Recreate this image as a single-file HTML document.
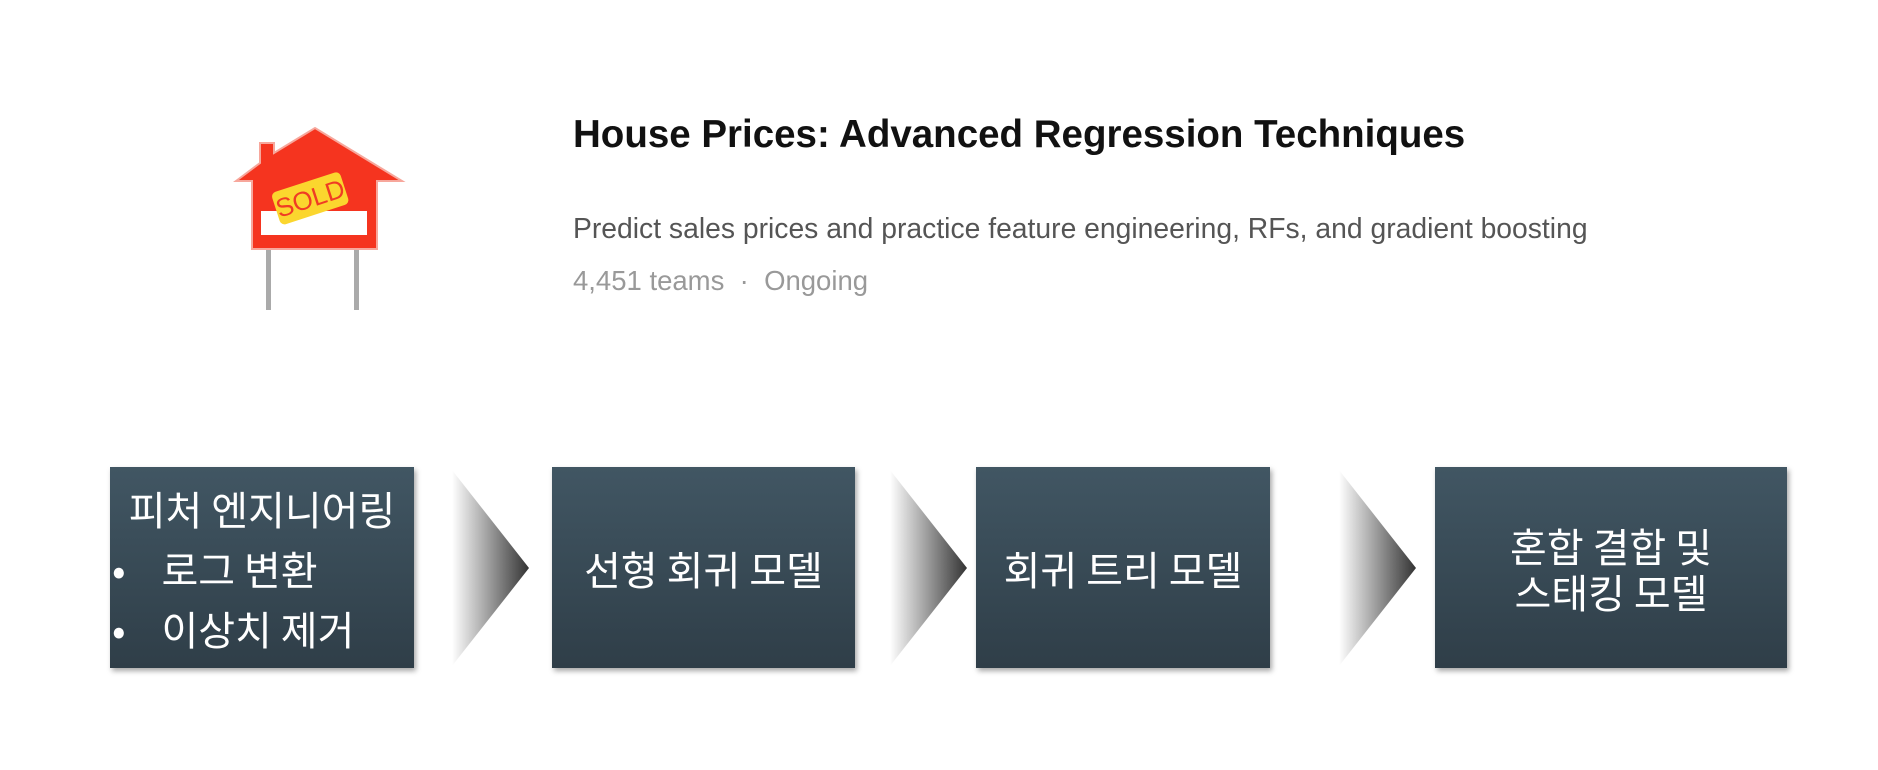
<!DOCTYPE html>
<html><head><meta charset="utf-8"><style>
body{margin:0;width:1878px;height:770px;background:#fff;position:relative;overflow:hidden;font-family:"Liberation Sans","Noto Sans CJK KR",sans-serif}
.box{position:absolute;top:467px;height:201px;background:linear-gradient(#415663,#2f3e48);box-shadow:2px 3px 5px rgba(0,0,0,.35);color:#fff;display:flex;align-items:center;justify-content:center;text-align:center;font-size:40px;line-height:46px;font-family:"Noto Sans CJK KR","NanumGothic",sans-serif;font-weight:400}
.chev{position:absolute;top:470px;width:77px;height:196px}
</style></head><body>
<svg style="position:absolute;left:230px;top:125px" width="180" height="185" viewBox="0 0 180 185">
<rect x="36" y="105" width="5" height="80" fill="#aaa"/><rect x="124" y="105" width="5" height="80" fill="#aaa"/>
<polygon points="6,56 30,38 30,18 44,18 44,28 85,3 172,56 147,56 147,124 22,124 22,56" fill="#f5341f" stroke="#f7a79c" stroke-width="2"/>
<rect x="31" y="86" width="106" height="24" fill="#fff"/>
<g transform="rotate(-18 78 73)"><rect x="44" y="57" width="72" height="34" rx="5" fill="#fbd62e"/><text x="80" y="83" text-anchor="middle" font-size="26" fill="#f03c24" font-family="Liberation Sans,sans-serif">SOLD</text></g>
</svg>
<div style="position:absolute;left:573px;top:113px;font-size:38.5px;font-weight:bold;color:#111">House Prices: Advanced Regression Techniques</div>
<div style="position:absolute;left:573px;top:212px;font-size:28.3px;color:#555">Predict sales prices and practice feature engineering, RFs, and gradient boosting</div>
<div style="position:absolute;left:573px;top:265px;font-size:27.5px;color:#999">4,451 teams &nbsp;·&nbsp; Ongoing</div>

<div class="box" style="left:110px;width:304px;display:block;text-align:left;line-height:50px">
<div style="text-align:center;margin-top:16px">피처 엔지니어링</div>
<div style="margin-top:10px;padding-left:2px">•&nbsp;&nbsp;&nbsp;&nbsp;로그 변환</div>
<div style="margin-top:10px;padding-left:2px">•&nbsp;&nbsp;&nbsp;&nbsp;이상치 제거</div>
</div>
<svg class="chev" style="left:452px" viewBox="0 0 77 196" preserveAspectRatio="none"><defs><linearGradient id="g"><stop offset="0" stop-color="#fff"/><stop offset="1" stop-color="#333"/></linearGradient></defs><polygon points="0,0 77,98 0,196" fill="url(#g)"/></svg>
<div class="box" style="left:552px;width:303px">선형 회귀 모델</div>
<svg class="chev" style="left:890px" viewBox="0 0 77 196" preserveAspectRatio="none"><polygon points="0,0 77,98 0,196" fill="url(#g)"/></svg>
<div class="box" style="left:976px;width:294px">회귀 트리 모델</div>
<svg class="chev" style="left:1339px" viewBox="0 0 77 196" preserveAspectRatio="none"><polygon points="0,0 77,98 0,196" fill="url(#g)"/></svg>
<div class="box" style="left:1435px;width:352px">혼합 결합 및<br>스태킹 모델</div>
</body></html>
